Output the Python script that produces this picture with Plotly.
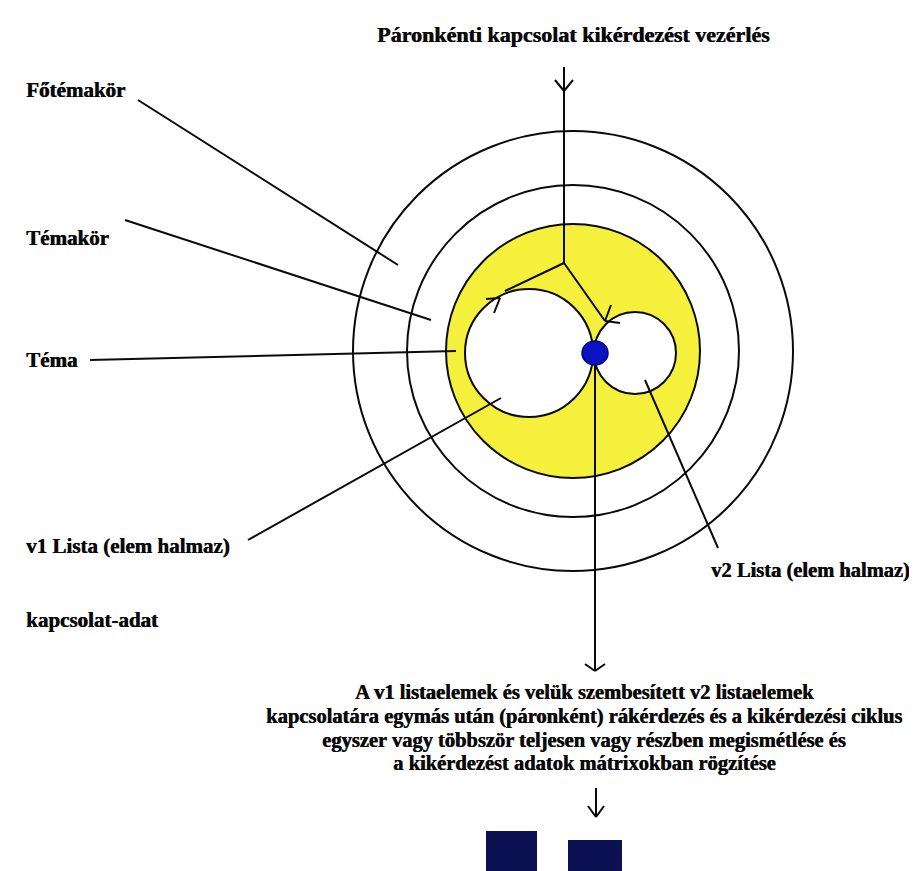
import plotly.graph_objects as go

W, H = 917, 871

# ---- diagram content -------------------------------------------------
title_text = "Páronkénti kapcsolat kikérdezést vezérlés"
side_labels = ["Főtémakör", "Témakör", "Téma", "v1 Lista (elem halmaz)", "kapcsolat-adat"]
side_label_y = [82, 230, 352, 538, 612]
v2_label = "v2 Lista (elem halmaz)"
bottom_lines = [
    "A v1 listaelemek és velük szembesített v2 listaelemek",
    "kapcsolatára egymás után (páronként) rákérdezés és a kikérdezési ciklus",
    "egyszer vagy többször teljesen vagy részben megismétlése és",
    "a kikérdezést adatok mátrixokban rögzítése",
]
bottom_line_y = [684, 708, 732, 755]

# concentric rings (Főtémakör, Témakör, Téma) and the two list circles
center = (565, 343)
ring_radii = [220, 166, 127]
list_centers = [(521, 345), (627, 345)]
list_radii = [64, 41]
dot_center = (587, 345)
dot_r = 13

# leader lines: (start, end)
leaders = [
    ((130, 92), (390, 257)),    # Főtémakör
    ((117, 212), (423, 312)),   # Témakör
    ((82, 352), (448, 343)),    # Téma
    ((240, 532), (493, 390)),   # v1 Lista
    ((637, 372), (710, 540)),   # v2 Lista
]

INK = "#0a0a0a"
YELLOW = "#f4f03c"
NAVY = "#0b1152"
FONT = "Liberation Serif, Times New Roman, Times, serif"

fig = go.Figure()
shapes = []

def line(p, q, w=2):
    shapes.append(dict(type="line", x0=p[0], y0=p[1], x1=q[0], y1=q[1],
                       xref="x", yref="y", line=dict(color=INK, width=w)))

def circle(c, r, fill=None, w=2):
    shapes.append(dict(type="circle", x0=c[0] - r, y0=c[1] - r, x1=c[0] + r, y1=c[1] + r,
                       xref="x", yref="y", fillcolor=fill if fill else "rgba(0,0,0,0)",
                       line=dict(color=INK, width=w)))

# rings
circle(center, ring_radii[0])
circle(center, ring_radii[1])
circle(center, ring_radii[2], fill=YELLOW)
circle(list_centers[0], list_radii[0], fill="white")
circle(list_centers[1], list_radii[1], fill="white")

# leader lines
for p, q in leaders:
    line(p, q)

# control line from title with Y junction
top_x = 556
junction = (556, 255)
line((top_x, 59), junction)
line(junction, (497, 283))
line(junction, (597, 313))
# arrowheads
line((547, 72), (556, 83)); line((565, 72), (556, 83))
line((492, 290), (478, 291)); line((492, 290), (486, 305))
line((597, 313), (603, 297)); line((597, 313), (612, 315))

# vertical line from the dot downwards
line(dot_center, (587, 662))
line((577, 656), (587, 663)); line((597, 656), (587, 663))

# arrow to the matrices
line((588, 780), (588, 808))
line((580, 798), (588, 809)); line((596, 798), (588, 809))

# blue dot
shapes.append(dict(type="circle", x0=dot_center[0] - dot_r, y0=dot_center[1] - dot_r + 1,
                   x1=dot_center[0] + dot_r, y1=dot_center[1] + dot_r - 1,
                   xref="x", yref="y", fillcolor="#0a14c4", line=dict(color="#05086a", width=1.5)))

# matrices (navy squares)
shapes.append(dict(type="rect", x0=478, y0=823, x1=529, y1=864, xref="x", yref="y",
                   fillcolor=NAVY, line=dict(width=0)))
shapes.append(dict(type="rect", x0=560, y0=832, x1=614, y1=875, xref="x", yref="y",
                   fillcolor=NAVY, line=dict(width=0)))

annotations = []
HEAVY = "0.6px 0 0 #0a0a0a"

def text(t, x, y, anchor="left", size=21):
    annotations.append(dict(text="<b>" + t + "</b>", x=x, y=y, xref="x", yref="y", showarrow=False,
                            xanchor=anchor, yanchor="middle",
                            font=dict(family=FONT, size=size, color=INK, shadow=HEAVY)))

text(title_text, 565, 26, anchor="center", size=22)
for t, y in zip(side_labels, side_label_y):
    text(t, 16, y, size=21)
text(v2_label, 904, 562, anchor="right", size=20.5)
for t, y in zip(bottom_lines, bottom_line_y):
    text(t, 576, y, anchor="center", size=20.5)

fig.update_layout(
    width=W, height=H,
    margin=dict(l=0, r=0, t=0, b=0),
    paper_bgcolor="white", plot_bgcolor="white",
    xaxis=dict(range=[0, W], visible=False, fixedrange=True),
    yaxis=dict(range=[H, 0], visible=False, fixedrange=True),
    shapes=shapes, annotations=annotations, showlegend=False,
)
fig.write_html("out.html")
